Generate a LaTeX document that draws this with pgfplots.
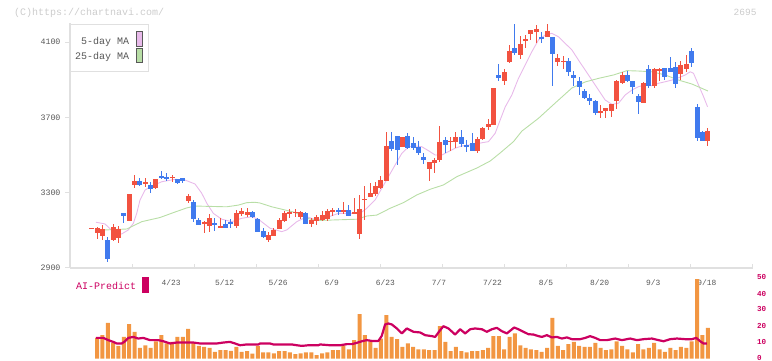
\documentclass[border=0pt]{standalone}
\usepackage{pgfplots}
\pgfplotsset{compat=1.18}
\usepackage{pgfplotstable}
\usepackage{fontspec}
\setmainfont{Liberation Mono}
\definecolor{cRed}{RGB}{242,82,64}
\definecolor{cBlue}{RGB}{64,122,238}
\definecolor{maPink}{RGB}{232,186,234}
\definecolor{maGreen}{RGB}{184,222,166}
\definecolor{axGray}{RGB}{224,224,224}
\definecolor{txGray}{RGB}{88,88,88}
\definecolor{cpGray}{RGB}{204,204,204}
\definecolor{volOrange}{RGB}{242,150,66}
\definecolor{aiMag}{RGB}{204,0,96}

\pgfplotstableread{
x o h l c
0 3110 3115 3107 3112
1 3087 3119 3054 3111
2 3070 3126 3049 3107
4 3049 3134 3043 3116
5 3058 3123 3035 3107
7 3150 3293 3150 3293
8 3341 3394 3326 3362
10 3349 3376 3332 3354
12 3325 3373 3322 3373
15 3381 3396 3358 3385
18 3257 3293 3247 3282
21 3137 3151 3087 3146
22 3124 3189 3093 3165
24 3118 3165 3111 3120
27 3124 3208 3114 3194
28 3187 3220 3176 3204
29 3183 3216 3173 3196
33 3049 3091 3040 3075
34 3070 3114 3070 3102
35 3107 3167 3107 3155
36 3150 3205 3146 3190
37 3185 3212 3165 3199
38 3194 3212 3172 3197
39 3170 3204 3160 3196
41 3134 3163 3119 3155
42 3151 3184 3130 3173
43 3157 3201 3147 3183
44 3160 3212 3150 3203
45 3196 3220 3176 3208
47 3199 3252 3187 3208
49 3188 3273 3187 3199
50 3080 3288 3052 3213
51 3263 3335 3157 3265
52 3278 3350 3277 3300
53 3293 3358 3282 3335
54 3325 3388 3317 3367
55 3363 3624 3363 3548
58 3541 3598 3541 3597
63 3426 3465 3362 3464
64 3456 3482 3406 3473
65 3473 3654 3464 3571
67 3572 3597 3523 3575
68 3571 3624 3539 3597
72 3523 3594 3509 3585
73 3583 3647 3582 3642
74 3650 3691 3633 3665
75 3659 3854 3659 3854
77 3893 3955 3872 3942
78 3995 4084 3987 4052
80 4031 4132 4010 4088
81 4112 4137 4070 4114
82 4141 4166 4111 4164
83 4155 4190 4096 4169
85 4128 4196 4126 4158
87 3995 4036 3972 4017
88 3997 4026 3955 3999
95 3727 3765 3695 3735
96 3735 3748 3695 3748
97 3735 3771 3703 3769
98 3787 3896 3744 3894
99 3881 3939 3877 3925
103 3778 3889 3778 3884
105 3866 3964 3857 3957
106 3953 3964 3894 3955
110 3928 3999 3898 3978
111 3957 4031 3939 3983
115 3574 3642 3549 3627
}\upc

\pgfplotstableread{
x o h l c
3 3049 3063 2933 2946
6 3194 3194 3140 3178
9 3362 3376 3338 3341
11 3341 3357 3297 3319
13 3390 3415 3372 3378
14 3385 3407 3364 3372
16 3372 3374 3346 3350
17 3376 3376 3350 3362
19 3250 3261 3146 3160
20 3155 3167 3126 3130
23 3140 3163 3094 3128
25 3132 3155 3112 3114
26 3143 3160 3112 3132
30 3199 3204 3164 3172
31 3160 3165 3091 3093
32 3096 3111 3058 3066
40 3194 3195 3134 3136
46 3208 3220 3181 3199
48 3208 3234 3176 3176
56 3574 3620 3523 3532
57 3601 3601 3447 3526
59 3601 3615 3534 3535
60 3565 3597 3526 3535
61 3544 3574 3500 3512
62 3491 3512 3452 3473
66 3580 3597 3512 3553
69 3597 3633 3544 3557
70 3553 3580 3517 3544
71 3565 3615 3521 3523
76 3925 3983 3893 3910
79 4070 4196 4031 4043
84 4128 4152 4096 4120
86 4128 4129 3866 4036
89 4001 4013 3921 3942
90 3925 3948 3868 3910
91 3895 3916 3818 3863
92 3841 3850 3800 3801
93 3804 3824 3765 3788
94 3787 3792 3712 3725
100 3925 3948 3890 3893
101 3893 3893 3824 3863
102 3815 3824 3716 3780
104 3957 3978 3857 3866
107 3960 3962 3898 3916
108 3960 4019 3940 3942
109 3969 3995 3857 3877
112 4052 4070 3969 3990
113 3756 3769 3574 3592
114 3624 3625 3572 3574
}\downc

\pgfplotstableread{
x y
0.80 3143
2.48 3134
4.67 3075
5.60 3081
6.83 3102
7.77 3137
8.40 3190
9.02 3261
9.95 3314
11.20 3335
13.07 3358
15.56 3371
17.42 3367
19.29 3346
20.54 3297
21.48 3244
22.71 3190
24.28 3159
26.14 3146
28.01 3164
29.88 3172
31.11 3159
33.30 3111
35.48 3093
36.41 3102
38.28 3146
40.15 3172
42.02 3155
43.57 3165
46.05 3190
48.55 3190
50.42 3197
51.35 3217
52.90 3261
54.15 3323
55.39 3385
56.64 3447
57.89 3509
59.12 3544
60.37 3548
61.62 3544
62.86 3523
64.11 3500
65.36 3500
66.59 3518
67.84 3536
69.09 3548
70.33 3553
71.58 3558
72.83 3565
74.06 3571
75.31 3615
76.25 3686
77.18 3755
78.43 3819
79.66 3907
80.91 3978
82.17 4049
83.40 4111
84.65 4137
85.90 4146
87.13 4128
88.38 4093
89.64 4058
90.87 4004
92.12 3951
93.37 3898
94.60 3845
95.85 3792
97.11 3769
98.34 3775
99.59 3819
100.84 3845
102.07 3863
103.32 3872
104.57 3868
105.81 3881
107.06 3889
108.31 3898
109.54 3910
110.79 3925
111.72 3942
112.34 3934
113.27 3872
114.21 3810
114.96 3756
}\mafive

\pgfplotstableread{
x y
2.48 3102
6.54 3107
9.34 3146
12.75 3168
15.24 3194
17.74 3219
19.29 3229
25.21 3225
27.38 3234
28.94 3247
30.49 3249
31.43 3245
33.61 3225
36.10 3208
37.96 3195
40.15 3164
42.02 3152
45.12 3155
49.49 3159
51.35 3176
53.22 3181
55.70 3217
58.19 3247
60.69 3288
63.17 3318
65.66 3341
68.16 3385
71.90 3431
74.38 3468
76.25 3511
78.73 3571
80.30 3627
83.40 3695
86.52 3776
89.64 3856
92.12 3888
94.60 3907
97.40 3925
99.91 3948
102.07 3946
104.57 3942
107.06 3925
109.54 3898
112.04 3877
115.03 3840
}\matwentyfive

\pgfplotstableread{
x v
1 13.0
2 14.7
3 22.4
4 10.1
5 8.0
6 13.6
7 21.6
8 16.8
9 6.75
10 8.4
11 6.75
12 10.9
13 14.7
14 9.5
15 10.5
16 13.6
17 13.6
18 18.6
19 10.1
20 8.0
21 7.4
22 6.75
23 4.25
24 5.3
25 5.3
26 4.9
27 7.4
28 4.25
29 4.7
30 3.1
31 8.0
32 3.9
33 3.9
34 3.25
35 4.7
36 4.7
37 3.9
38 2.8
39 3.25
40 3.9
41 3.9
42 2.2
43 3.4
44 3.9
45 5.3
46 5.3
47 8.4
48 5.9
49 11.6
50 27.8
51 14.7
52 10.9
53 6.75
54 12.6
55 27.2
56 13.6
57 12.2
58 7.4
59 9.5
60 7.4
61 5.9
62 5.9
63 5.3
64 5.3
65 20.3
66 10.5
67 4.7
68 7.4
69 4.7
70 3.9
71 4.7
72 4.7
73 5.3
74 6.75
75 14.1
76 14.1
77 5.9
78 13.6
79 15.75
80 8.4
81 6.75
82 5.9
83 5.3
84 4.25
85 6.75
86 25.5
87 8.0
88 5.3
89 9.1
90 10.5
91 8.0
92 7.4
93 7.4
94 9.9
95 6.75
96 5.3
97 5.9
98 10.9
99 8.0
100 5.9
101 3.9
102 9.1
103 5.9
104 6.75
105 9.9
106 5.9
107 4.25
108 6.75
109 5.3
110 7.4
111 6.75
112 10.9
113 49.7
114 14.7
115 19.25
}\vol

\pgfplotstableread{
x v
0.80 13.0
2.17 13.0
3.10 11.6
4.03 10.5
4.67 9.5
5.60 9.5
6.22 10.9
6.83 13.0
7.77 13.6
8.70 12.6
9.64 13.0
10.89 11.6
12.44 11.6
13.37 10.9
14.62 9.5
15.87 10.1
18.97 10.1
20.22 9.5
23.34 9.5
24.58 10.1
25.83 10.5
26.76 9.5
27.69 8.4
28.94 8.9
31.11 8.9
31.43 9.5
33.30 9.5
33.91 8.9
37.35 8.9
38.28 8.4
39.22 8.0
40.45 8.4
42.32 8.4
42.63 8.9
44.50 8.4
46.37 8.4
47.62 9.1
48.55 9.1
49.49 9.9
50.42 10.9
51.35 11.6
52.29 11.1
53.52 11.1
54.15 14.3
54.77 21.4
55.39 22.0
56.02 21.4
56.96 18.9
57.89 15.8
58.82 18.9
60.06 16.8
61.31 16.4
62.24 14.7
63.49 14.1
64.11 13.6
65.04 17.8
65.66 20.3
66.59 18.9
67.84 15.1
68.78 18.4
69.71 15.8
70.65 18.4
71.58 18.9
72.83 18.4
73.76 16.8
74.70 18.4
75.63 19.3
76.56 17.2
77.50 15.8
78.86 19.5
79.66 18.4
80.60 16.8
81.53 15.3
82.46 15.1
83.40 14.1
84.03 13.6
84.97 14.7
85.90 13.3
86.83 13.6
87.77 12.6
88.70 13.3
89.64 12.2
91.18 12.2
92.12 13.0
93.05 14.1
93.98 13.0
94.92 11.6
96.17 11.6
97.72 12.6
98.97 11.6
100.52 12.6
101.77 11.6
103.01 12.2
104.57 12.6
105.81 11.6
106.74 10.9
107.99 12.2
109.24 12.6
110.79 12.2
112.04 12.2
112.85 13.0
113.59 10.9
114.21 9.5
114.85 9.5
}\ai

\begin{document}
\begin{tikzpicture}[x=1pt,y=1pt]
\path[use as bounding box] (0,0) rectangle (772,361);

\begin{axis}[
  at={(70pt,93pt)}, anchor=south west,
  scale only axis, width=682.5pt, height=244.8pt,
  xmin=-4.05, xmax=123.35, ymin=2900, ymax=4200,
  axis x line*=bottom, axis y line*=left,
  axis line style={-, draw=axGray, line width=1.3pt},
  xtick={-4.05,7.53,19.11,30.68,42.26,53.84,65.42,77.00,88.57,100.15,111.73,123.31},
  xticklabels={},
  ytick={2900,3300,3700,4100},
  yticklabels={2900,3300,3700,4100},
  scaled y ticks=false,
  tick align=outside, major tick length=5pt,
  tick style={draw=axGray, line width=1pt},
  xtick style={yshift=4pt},
  yticklabel style={font=\fontsize{8.3}{9}\selectfont, text=txGray, xshift=-1pt},
  clip=false,
]
\addplot[maPink, line width=0.9pt] table[x=x,y=y] {\mafive};
\addplot[maGreen, line width=0.9pt] table[x=x,y=y] {\matwentyfive};

\addplot[draw=none, mark=none, forget plot,
  error bars/.cd, y dir=both, y explicit, error mark=none,
  error bar style={line width=1pt, draw=cRed}]
  table[x=x, y expr={(\thisrow{h}+\thisrow{l})/2}, y error expr={(\thisrow{h}-\thisrow{l})/2}] {\upc};
\addplot[draw=none, mark=none, forget plot,
  error bars/.cd, y dir=both, y explicit, error mark=none,
  error bar style={line width=5pt, draw=cRed}]
  table[x=x, y expr={(\thisrow{o}+\thisrow{c})/2}, y error expr={max(abs(\thisrow{c}-\thisrow{o})/2,2.7)}] {\upc};
\addplot[draw=none, mark=none, forget plot,
  error bars/.cd, y dir=both, y explicit, error mark=none,
  error bar style={line width=1pt, draw=cBlue}]
  table[x=x, y expr={(\thisrow{h}+\thisrow{l})/2}, y error expr={(\thisrow{h}-\thisrow{l})/2}] {\downc};
\addplot[draw=none, mark=none, forget plot,
  error bars/.cd, y dir=both, y explicit, error mark=none,
  error bar style={line width=5pt, draw=cBlue}]
  table[x=x, y expr={(\thisrow{o}+\thisrow{c})/2}, y error expr={max(abs(\thisrow{c}-\thisrow{o})/2,2.7)}] {\downc};

\tikzset{datelbl/.style={font=\fontsize{7.9}{8}\selectfont, text=txGray, inner sep=0pt, yshift=-15pt, xshift=-1pt}}
\node[datelbl] at (axis cs:15,2900) {4/23};
\node[datelbl] at (axis cs:25,2900) {5/12};
\node[datelbl] at (axis cs:35,2900) {5/26};
\node[datelbl] at (axis cs:45,2900) {6/9};
\node[datelbl] at (axis cs:55,2900) {6/23};
\node[datelbl] at (axis cs:65,2900) {7/7};
\node[datelbl] at (axis cs:75,2900) {7/22};
\node[datelbl] at (axis cs:85,2900) {8/5};
\node[datelbl] at (axis cs:95,2900) {8/20};
\node[datelbl] at (axis cs:105,2900) {9/3};
\node[datelbl] at (axis cs:115,2900) {9/18};
\end{axis}

\begin{axis}[
  at={(70pt,2.3pt)}, anchor=south west,
  scale only axis, width=682.5pt, height=80pt,
  xmin=-4.05, xmax=123.35, ymin=0, ymax=50,
  axis x line=none, axis y line*=right,
  axis line style={draw=none},
  ytick={0,10,20,30,40,50}, yticklabels={0,10,20,30,40,50},
  major tick length=0pt,
  yticklabel style={font=\fontsize{7.6}{8}\selectfont\bfseries, text=aiMag, anchor=west, xshift=1pt, yshift=1.2pt},
  clip=false,
]
\addplot[ybar, bar width=4pt, fill=volOrange, draw=none] table[x=x,y=v] {\vol};
\addplot[aiMag, line width=2.2pt, line join=round] table[x=x,y=v] {\ai};
\end{axis}

% header texts
\node[anchor=west, inner sep=0pt, font=\fontsize{10}{10}\selectfont, text=cpGray] at (14,348.3) {(C)https://chartnavi.com/};
\node[anchor=east, inner sep=0pt, font=\fontsize{9.5}{10}\selectfont, text=cpGray] at (756.7,349) {2695};

% legend
\draw[axGray, line width=1pt, fill=white] (70.7,289.7) rectangle (148.7,336.7);
\node[anchor=east, inner sep=0pt, font=\fontsize{10}{10}\selectfont, text=txGray] at (129.3,319) {5-day MA};
\node[anchor=east, inner sep=0pt, font=\fontsize{10}{10}\selectfont, text=txGray] at (129.3,304) {25-day MA};
\draw[fill=maPink, draw=txGray, line width=0.8pt] (136.5,314.8) rectangle (142.5,329.7);
\draw[fill=maGreen, draw=txGray, line width=0.8pt] (136.5,298.2) rectangle (142.5,312.5);

% AI label
\node[anchor=west, inner sep=0pt, font=\fontsize{10}{10}\selectfont, text=aiMag] at (76,75.3) {AI-Predict};
\fill[aiMag] (142.3,68.3) rectangle (149,84.3);
\end{tikzpicture}
\end{document}
